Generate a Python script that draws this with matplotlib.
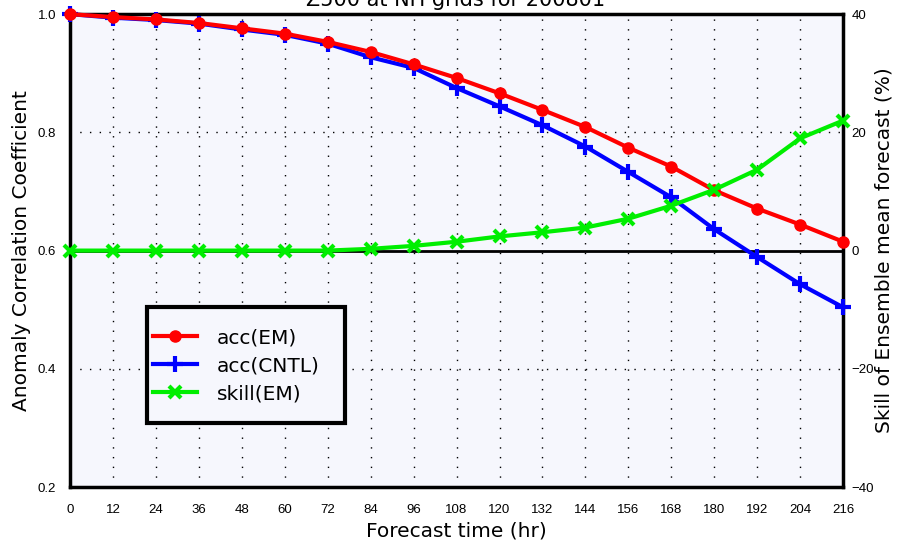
import matplotlib
matplotlib.use("Agg")
import matplotlib.pyplot as plt
from matplotlib.patches import Rectangle

hours = [0, 12, 24, 36, 48, 60, 72, 84, 96, 108, 120, 132, 144, 156, 168, 180, 192, 204, 216]
acc_em = [1.0, 0.995, 0.991, 0.985, 0.976, 0.967, 0.953, 0.936, 0.915, 0.892, 0.866, 0.838,
          0.809, 0.774, 0.742, 0.702, 0.671, 0.644, 0.615]
acc_cntl = [1.0, 0.994, 0.990, 0.984, 0.974, 0.965, 0.950, 0.927, 0.909, 0.875, 0.844, 0.812,
            0.776, 0.733, 0.690, 0.636, 0.589, 0.543, 0.504]
skill_em = [0.0, 0.0, 0.0, 0.0, 0.0, 0.0, 0.0, 0.3, 0.8, 1.5, 2.4, 3.1,
            3.9, 5.4, 7.6, 10.3, 13.7, 19.0, 22.0]
left_ticks = [0.2, 0.4, 0.6, 0.8, 1.0]
right_ticks = [-40, -20, 0, 20, 40]

plt.rcParams['font.family'] = ['Liberation Sans', 'DejaVu Sans']
BIG = ['DejaVu Sans']
BG = '#f6f7fd'

fig = plt.figure(figsize=(8.97, 5.43), dpi=100)
ax = fig.add_axes([0.078, 0.103, 0.862, 0.871])
ax.set_facecolor(BG)
ax.set_xlim(0, 216)
ax.set_ylim(0.2, 1.0)
ax.set_xticks(hours)
ax.set_xticklabels([str(h) for h in hours])
ax.set_yticks(left_ticks)
ax.set_yticklabels(['%.1f' % v for v in left_ticks])
ax.tick_params(axis='x', length=0, labelsize=9.5, pad=12)
ax.tick_params(axis='y', length=0, labelsize=9.5, pad=10)
for s in ax.spines.values():
    s.set_linewidth(2.5)

dot = (0, (1, 6))
for h in hours[1:-1]:
    ax.axvline(h, color='black', lw=1, ls=dot, zorder=1)
for v in [0.4, 0.8]:
    ax.axhline(v, color='black', lw=1, ls=dot, zorder=1)
ax.axhline(0.6, color='black', lw=2, zorder=2)

l2, = ax.plot(hours, acc_cntl, color='blue', lw=3, marker='+', ms=12, mew=3,
              label='acc(CNTL)', zorder=3, clip_on=False)
l1, = ax.plot(hours, acc_em, color='red', lw=3, marker='o', ms=8,
              label='acc(EM)', zorder=4, clip_on=False)

ax2 = ax.twinx()
ax2.set_ylim(-40, 40)
ax2.set_yticks(right_ticks)
ax2.set_yticklabels([str(v).replace('-', '\u2212') for v in right_ticks])
ax2.tick_params(length=0, labelsize=9.5, pad=6)
for s in ax2.spines.values():
    s.set_visible(False)
l3, = ax2.plot(hours, skill_em, color='#00ee00', lw=3, marker='x', ms=9, mew=3,
               label='skill(EM)', zorder=3, clip_on=False)

# legend box
box = Rectangle((0.0996, 0.1353), 0.2561, 0.2452, transform=ax2.transAxes,
                facecolor=BG, edgecolor='black', lw=3, zorder=5)
ax2.add_patch(box)
leg = ax2.legend([l1, l2, l3], ['acc(EM)', 'acc(CNTL)', 'skill(EM)'],
                 loc='upper left', bbox_to_anchor=(0.107, 0.336), frameon=False,
                 prop={'family': BIG, 'size': 14.5},
                 handlelength=2.2, borderpad=0, labelspacing=0.45,
                 handletextpad=1.0, borderaxespad=0)
leg.set_zorder(6)

ax.set_xlabel('Forecast time (hr)', fontsize=14.5, family=BIG, labelpad=4)
ax.set_ylabel('Anomaly Correlation Coefficient', fontsize=14.5, family=BIG, labelpad=5)
ax2.set_ylabel('Skill of Ensemble mean forecast (%)', fontsize=14.5, family=BIG, labelpad=0)

fig.text(0.508, 0.989, 'Z500 at NH grids for 200801', ha='center', va='baseline',
         fontsize=15, family=BIG)

fig.savefig('out.png', dpi=100)
